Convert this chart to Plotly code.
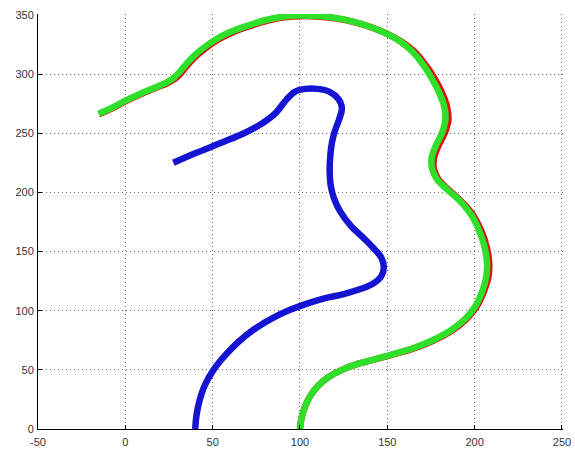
import plotly.graph_objects as go

# Outer contour (red) traced underneath the fitted contour (green)
red_x = [-15, -7, 0, 8, 16, 23.5, 28, 31, 35, 40, 46, 53, 61, 71, 81, 91, 101, 111, 121,
         131, 141, 150, 158, 165.5, 171.5, 176.8, 181.2, 184.2, 185, 183, 179.3, 176.8,
         176.6, 179, 183, 188, 194, 199.7, 203.8, 206.8, 208.3, 208, 205.4, 201.2, 195,
         186.4, 176.3, 165.2, 154.1, 143, 133, 124, 116, 110, 105.5, 102.5, 100.7, 100]
red_y = [266, 271.5, 277, 282.5, 287.5, 292, 295.5, 299.5, 306.5, 314.5, 322, 329, 335,
         340.5, 345, 348, 349, 348.5, 347, 344, 339.5, 334, 327.5, 319, 308.5, 297, 284.5,
         272.5, 261.5, 250.5, 239.5, 229.5, 220.5, 211.5, 205, 198.5, 190, 179.5, 167.5,
         154.5, 141.5, 129.5, 116.5, 103.5, 92.5, 82.5, 74.6, 68.2, 63.3, 58.9, 55, 50,
         43.5, 36, 27, 17.5, 8, 0]

green_x = [-15.3, -7, 0, 8, 16, 23, 27, 30, 34, 39, 45, 52, 60, 70, 80, 90, 100, 110, 120,
           130, 140, 149, 157, 164, 170, 175, 179.5, 182.5, 183.3, 181.5, 178, 175.5, 175.5,
           178, 182, 187, 193, 198.5, 202.5, 205.5, 207, 206.8, 204.5, 200.5, 194.5, 186,
           176, 165, 154, 143, 133, 124, 116, 110, 105.5, 102.5, 100.7, 100]
green_y = [266.5, 272, 277.5, 283, 288, 292.5, 296, 300, 307, 315, 322.5, 329.5, 335.5, 341,
           345.5, 348.5, 349.5, 349, 347.5, 344.5, 340, 334.5, 328, 319.5, 309, 297.5, 285,
           273, 262, 251, 240, 230, 221, 212, 205.5, 199, 190.5, 180, 168, 155, 142, 130,
           117, 104, 93, 83, 75, 68.5, 63.5, 59, 55, 50, 43.5, 36, 27, 17.5, 8, 0]

blue_x = [27.5, 40, 55, 68, 78, 86, 92, 97, 103, 110, 117, 122, 124, 122.5, 120, 118.3,
          117.3, 117, 117.7, 119.5, 123, 129, 136, 142, 146.5, 148, 146.5, 142, 135, 125,
          114, 104, 94, 84, 74, 65, 57, 50.5, 45.5, 42.5, 40.8, 40]
blue_y = [225, 233, 242, 250, 258, 267, 278, 285, 287.5, 287.5, 285, 279, 271, 262, 252,
          242, 230, 218, 205, 195, 184, 172, 162, 153, 145, 137, 129, 123, 118.5, 114,
          110.5, 106, 100.5, 93.5, 84.5, 74, 62, 50, 37, 24, 12, 0]

x_ticks = [-50, 0, 50, 100, 150, 200, 250]
y_ticks = [0, 50, 100, 150, 200, 250, 300, 350]

fig = go.Figure()
for xs, ys, color in [(blue_x, blue_y, "#1414d2"),
                      (red_x, red_y, "#e01010"),
                      (green_x, green_y, "#2ee02a")]:
    fig.add_trace(go.Scatter(x=xs, y=ys, mode="lines",
                             line=dict(color=color, width=6.5, shape="spline", smoothing=1),
                             hoverinfo="skip", showlegend=False))

axis_common = dict(
    showgrid=True, gridcolor="#6a6a6a", griddash="1px,3px", gridwidth=1,
    showline=True, linecolor="black", linewidth=1,
    ticks="inside", ticklen=4, tickcolor="black",
    zeroline=False, mirror=False, automargin=False,
    tickfont=dict(family="Liberation Sans, Arial, sans-serif", size=11, color="#333333"),
)
# ranges run a hair past the last tick so the outer grid lines stay visible
fig.update_xaxes(range=[-50, 250.6], tickvals=x_ticks, ticktext=[str(v) for v in x_ticks],
                 ticklabelstandoff=3, **axis_common)
fig.update_yaxes(range=[0, 350.8], tickvals=y_ticks, ticktext=[str(v) for v in y_ticks],
                 ticklabelstandoff=1, **axis_common)

fig.update_layout(width=575, height=453, margin=dict(l=38, r=12, t=14, b=24),
                  paper_bgcolor="white", plot_bgcolor="white")

fig.write_html("out.html")
